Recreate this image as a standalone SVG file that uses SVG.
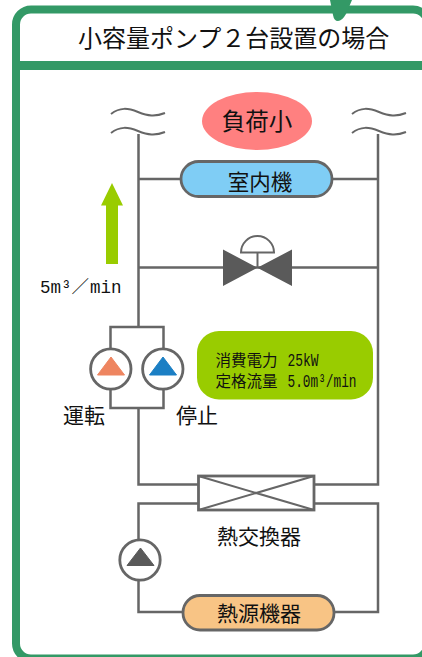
<svg xmlns="http://www.w3.org/2000/svg" width="422" height="657" viewBox="0 0 422 657">
<style>
text{font-family:"Noto Sans CJK JP","Noto Sans CJK SC",sans-serif;fill:#111}
.p{fill:none;stroke:#666;stroke-width:2.5}
.n{stroke:#666;stroke-width:2.8}
.w{fill:none;stroke:#666;stroke-width:2}
.m{font-family:"Liberation Mono","Noto Sans CJK JP",monospace}
</style>
<rect width="422" height="657" fill="#fff"/>
<g id="frame">
<rect x="16" y="9.500" width="412" height="649" rx="15" fill="#fff" stroke="#339966" stroke-width="8"/>
<rect x="20" y="61" width="402" height="9" fill="#339966"/>
<path d="M330 0H352L346 14Q342 21 338 21Q334 21 333 15Z" fill="#339966"/>
</g>
<g id="title"><text x="78" y="46.500" font-size="24">小容量ポンプ２台設置の場合</text></g>
<g id="connectors">
<path class="w" d="M111 114C120 107 128 108 138 112S155 117 165 113M111 133C120 126 128 127 138 131S155 136 165 132M352 114C361 107 369 108 379 112S396 117 406 113M352 133C361 126 369 127 379 131S396 136 406 132"/>
<path class="p" d="M138.500 134V327M378 134V484.500H315M138.500 179H181M332 179H378M138.500 267.500H378M138.500 408V484.500H198M198 503.500H138.500V540M138.500 581V612H183M334 612H378V503.500H315"/>
<path class="p" d="M110.500 369V327H163.500V369M110.500 369V408H163.500V369"/>
</g>
<g id="load"><ellipse cx="257" cy="121" rx="55" ry="29" fill="#ff8080"/><text x="257" y="130" font-size="23.500" text-anchor="middle">負荷小</text></g>
<g id="indoor"><rect x="181" y="161.500" width="151" height="35" rx="17.500" fill="#7fcdf5" class="n"/><text x="260" y="190" font-size="21.500" text-anchor="middle">室内機</text></g>
<g id="flow-arrow"><path d="M112 183L123 205.500H118V264H106V205.500H101Z" fill="#99cc00"/><text class="m" x="40" y="293" font-size="17.500">5m³／<tspan dx="1">min</tspan></text></g>
<g id="valve">
<path d="M223 249.500L292 286V249.500L223 286Z" fill="#5a5a5a"/>
<path d="M241 252.500A16.500 16.500 0 0 1 274 252.500Z" fill="#fff" class="w"/>
<path class="w" d="M257.500 252.500V267"/>
</g>
<g id="pump-run"><circle cx="110.800" cy="369" r="20.200" fill="#fff" class="n"/><path d="M97.500 375L111 357 124.500 375Z" fill="#ee8560" stroke="#ee8560"/><text x="63" y="423" font-size="21">運転</text></g>
<g id="pump-stop"><circle cx="162.800" cy="369" r="20.200" fill="#fff" class="n"/><path d="M149.500 375L163 357 176.500 375Z" fill="#1b7fc4" stroke="#1b7fc4"/><text x="176" y="423" font-size="21">停止</text></g>
<g id="spec"><rect x="197" y="331" width="176" height="68.500" rx="22" fill="#99cc00"/>
<text x="215.500" y="366" font-size="15.500">消費電力 <tspan class="m" font-size="17.500" x="287.500" textLength="31" lengthAdjust="spacingAndGlyphs">25kW</tspan></text>
<text x="215.500" y="387" font-size="15.500">定格流量 <tspan class="m" font-size="17.500" x="287.500" textLength="69" lengthAdjust="spacingAndGlyphs">5.0m³/min</tspan></text></g>
<g id="hx"><rect x="198.500" y="476" width="115.500" height="34" fill="#fff" class="n"/><path class="w" d="M198.500 476L314 510M314 476L198.500 510"/><text x="259" y="544" font-size="21" text-anchor="middle">熱交換器</text></g>
<g id="pump-source"><circle cx="140" cy="560" r="20.200" fill="#fff" class="n"/><path d="M127 565.500L140.500 548 154 565.500Z" fill="#5a5a5a" stroke="#5a5a5a"/></g>
<g id="source"><rect x="183" y="595.500" width="151" height="34.500" rx="17" fill="#f8c485" class="n"/><text x="259" y="621" font-size="21" text-anchor="middle">熱源機器</text></g>
</svg>
